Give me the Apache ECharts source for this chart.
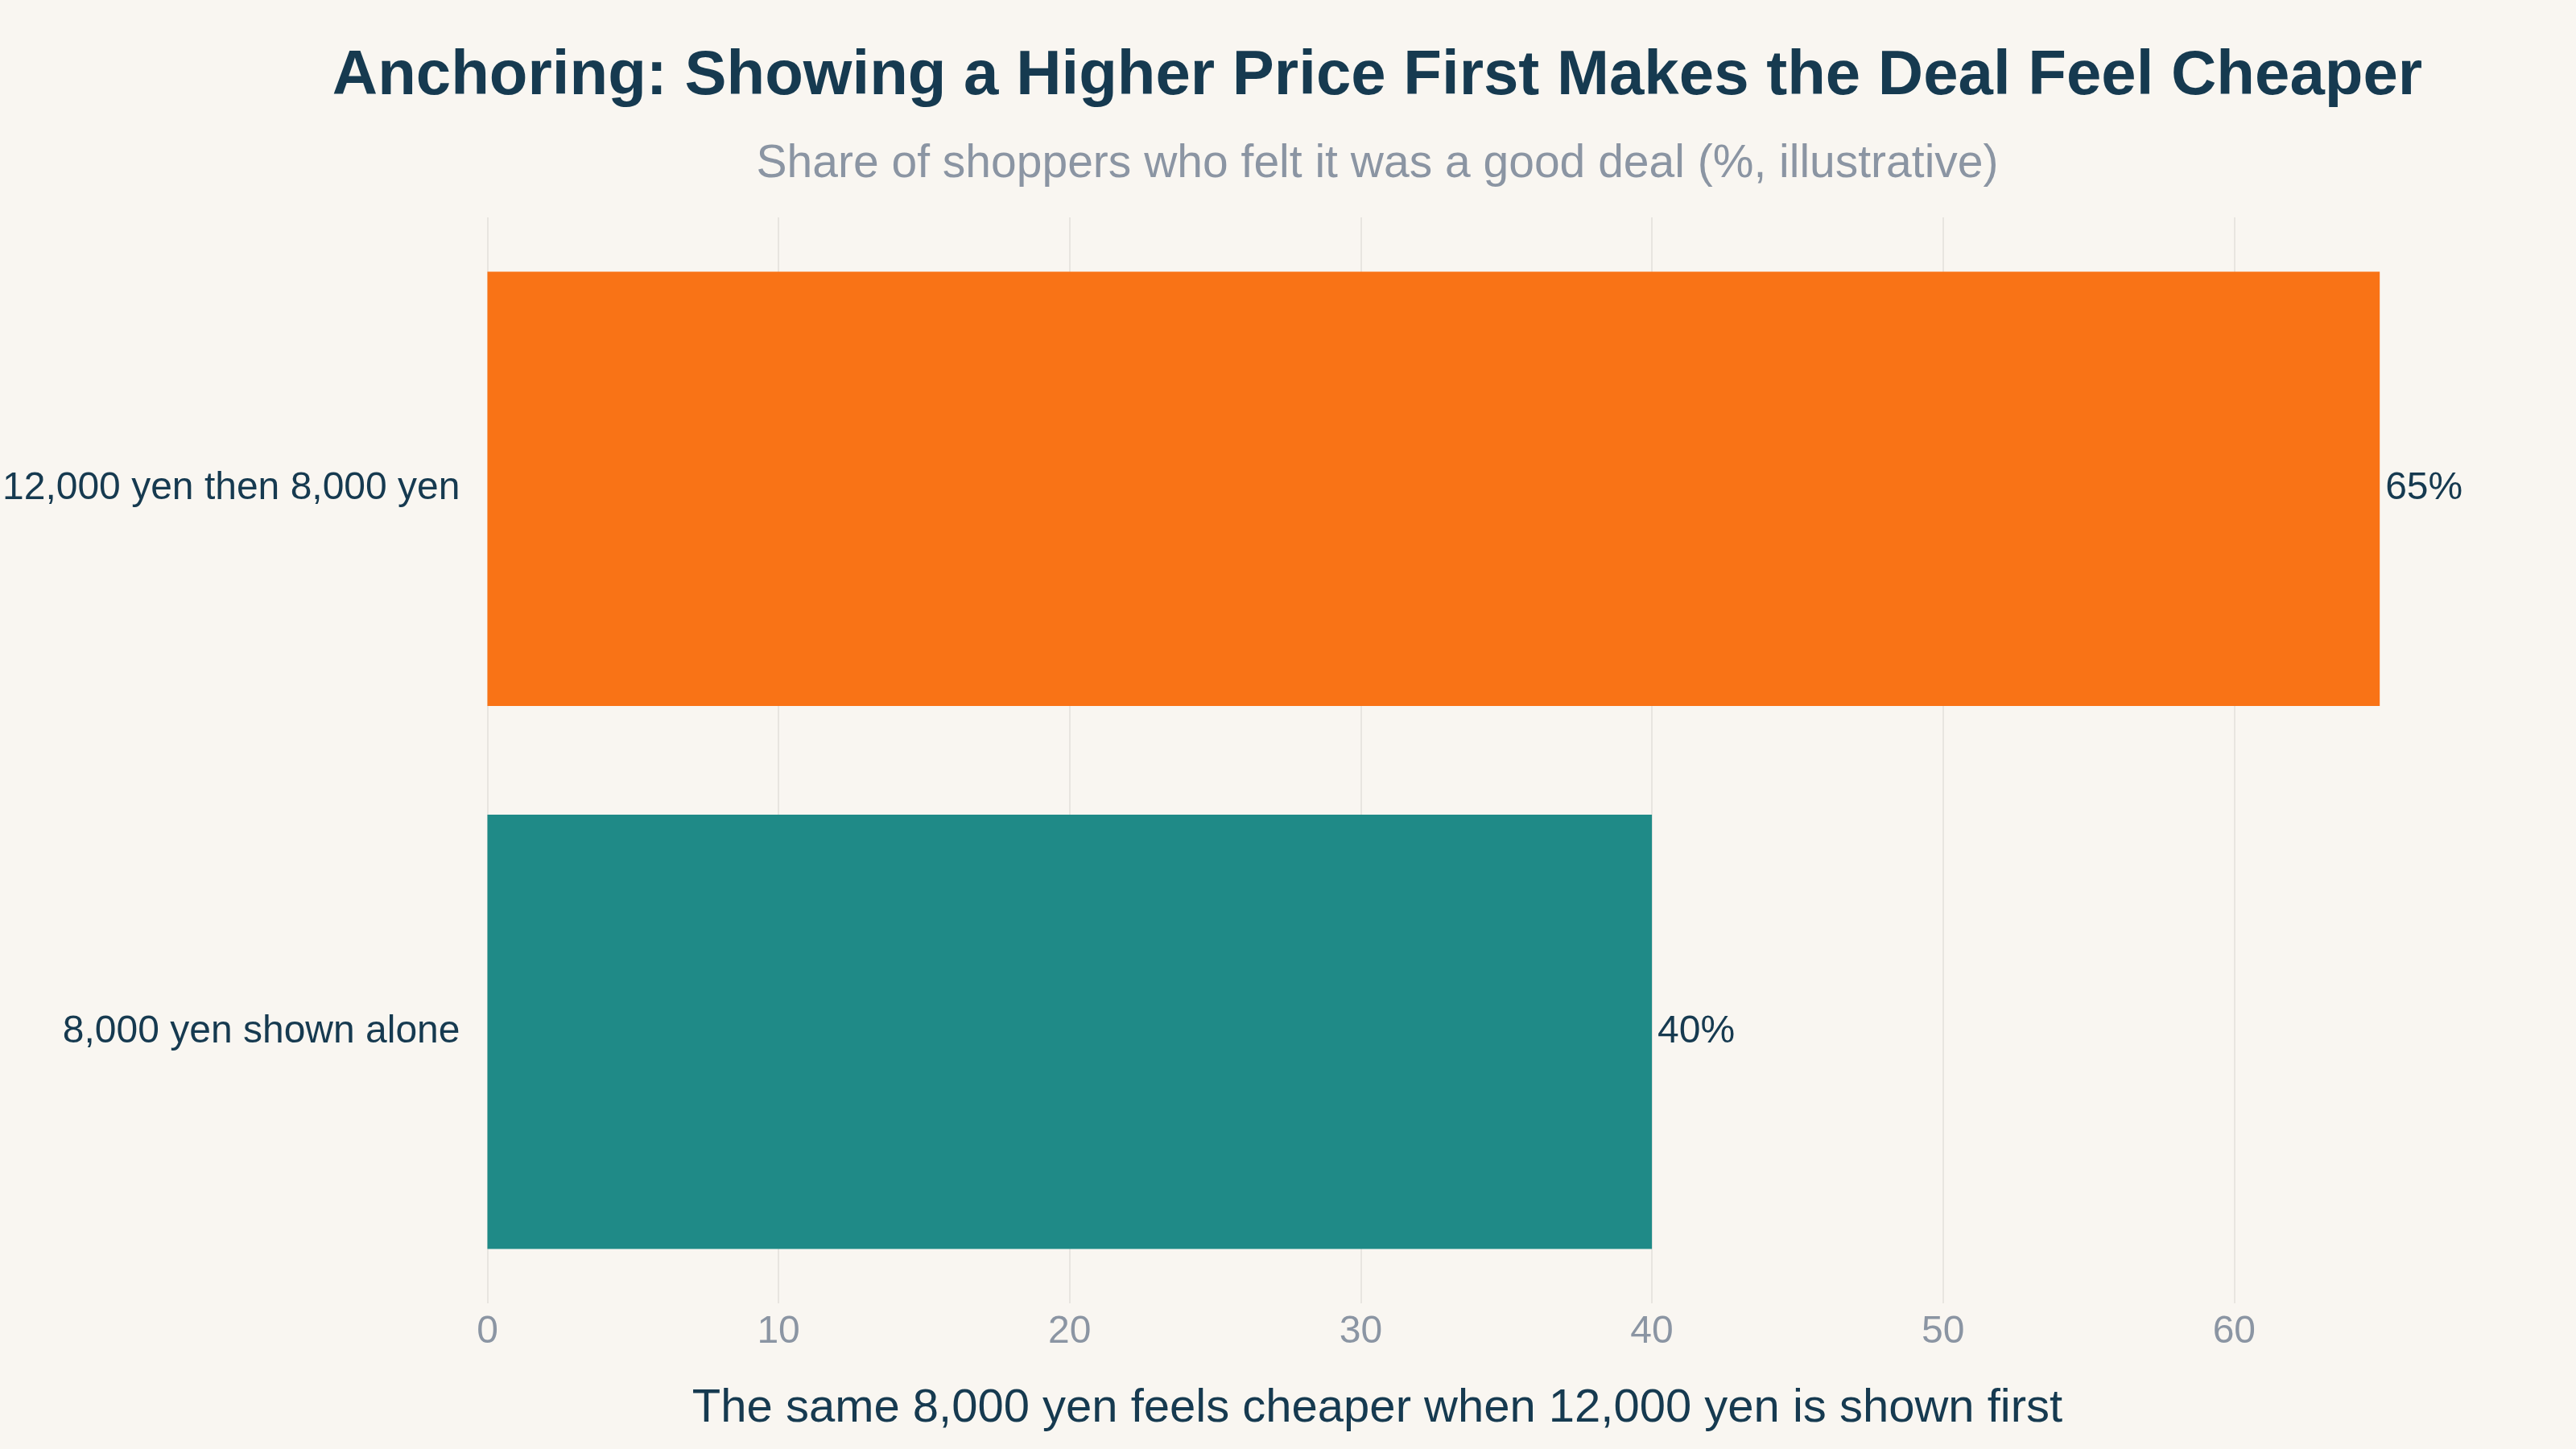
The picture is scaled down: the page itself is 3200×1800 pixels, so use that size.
<!DOCTYPE html>
<html>
<head>
<meta charset="utf-8">
<script src="https://cdn.jsdelivr.net/npm/echarts@6/dist/echarts.min.js"></script>
<style>
html,body{margin:0;padding:0;background:#f9f6f1;}
#chart{width:3200px;height:1800px;}
</style>
</head>
<body>
<div id="chart"></div>
<script>
const categories = ["8,000 yen shown alone", "12,000 yen then 8,000 yen"];
const values = [40, 65];
const barColors = ["#1f8a87", "#f97316"];
const xTicks = [0, 10, 20, 30, 40, 50, 60];
const titleText = "Anchoring: Showing a Higher Price First Makes the Deal Feel Cheaper";
const subtitleText = "Share of shoppers who felt it was a good deal (%, illustrative)";
const xTitleText = "The same 8,000 yen feels cheaper when 12,000 yen is shown first";

const FONT = "'Liberation Sans', Arial, Helvetica, sans-serif";
const NAVY = "#163a50";
const GRAY = "#8b95a3";

const chart = echarts.init(document.getElementById('chart'), null, {renderer: 'canvas'});
chart.setOption({
  backgroundColor: '#f9f6f1',
  animation: false,
  title: [
    {text: titleText, left: 1706, top: 51, textAlign: 'center',
     textStyle: {fontFamily: FONT, fontSize: 78, fontWeight: 'bold', color: NAVY}},
    {text: subtitleText, left: 1706, top: 171, textAlign: 'center',
     textStyle: {fontFamily: FONT, fontSize: 57, fontWeight: 'normal', color: GRAY}},
    {text: xTitleText, left: 1706, top: 1716, textAlign: 'center',
     textStyle: {fontFamily: FONT, fontSize: 58, fontWeight: 'normal', color: NAVY}}
  ],
  grid: {left: 601, top: 270, bottom: 181, right: 63, containLabel: false},
  xAxis: {
    type: 'value', min: 0, max: 70, interval: 10,
    axisLine: {show: false}, axisTick: {show: false},
    axisLabel: {fontFamily: FONT, fontSize: 48, color: GRAY, margin: 12, showMaxLabel: false,
      formatter: v => xTicks.indexOf(v) >= 0 ? String(v) : ''},
    splitLine: {show: true, showMaxLine: false, lineStyle: {color: '#e8e5e0', width: 2}}
  },
  yAxis: {
    type: 'category', data: categories,
    axisLine: {show: false}, axisTick: {show: false},
    axisLabel: {fontFamily: FONT, fontSize: 48, color: NAVY, margin: 34},
    splitLine: {show: false}
  },
  series: [{
    type: 'bar',
    data: values.map((v, i) => ({value: v, itemStyle: {color: barColors[i]}})),
    barCategoryGap: '20%',
    label: {show: true, position: 'right', distance: 7, formatter: p => p.value + '%',
      fontFamily: FONT, fontSize: 48, color: NAVY}
  }]
});
</script>
</body>
</html>
